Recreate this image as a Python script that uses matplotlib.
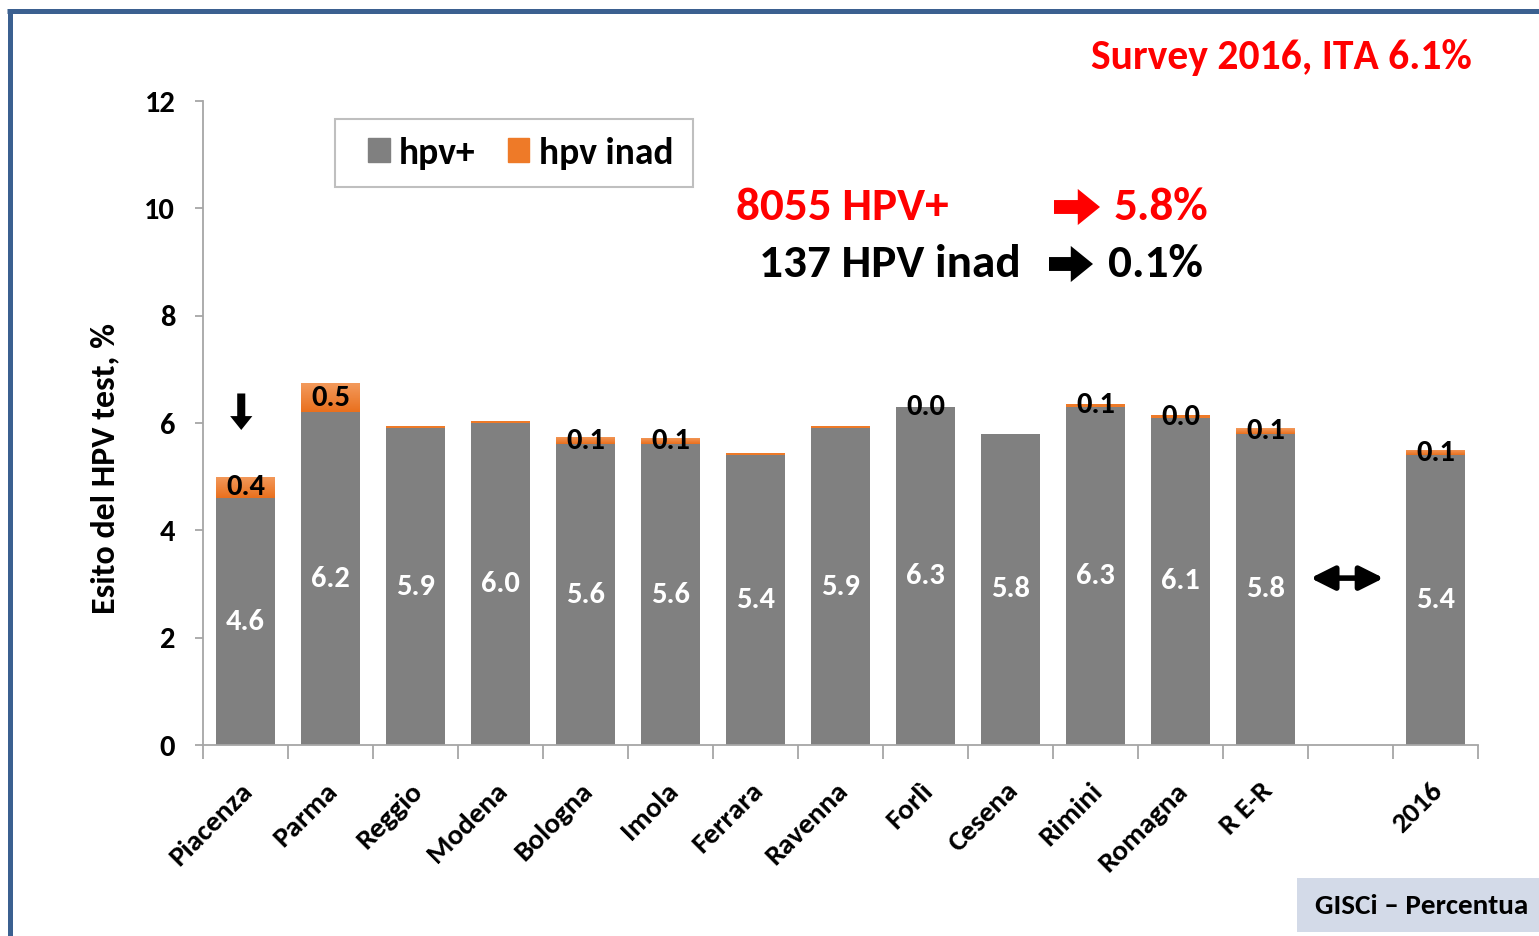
import numpy as np
import matplotlib.pyplot as plt
import matplotlib.transforms as mtransforms
from matplotlib.lines import Line2D
from matplotlib.patches import Rectangle, Patch, FancyArrowPatch
from matplotlib.colors import LinearSegmentedColormap

plt.rcParams['font.family'] = ['Carlito', 'Lato', 'DejaVu Sans']
plt.rcParams['font.weight'] = 'bold'
plt.rcParams['axes.labelweight'] = 'bold'

# esito del test HPV per programma (%)
areas = ["Piacenza", "Parma", "Reggio", "Modena", "Bologna", "Imola", "Ferrara",
         "Ravenna", "Forlì", "Cesena", "Rimini", "Romagna", "R E-R", "", "2016"]
hpv_pos = [4.6, 6.2, 5.9, 6.0, 5.6, 5.6, 5.4, 5.9, 6.3, 5.8, 6.3, 6.1, 5.8, np.nan, 5.4]
hpv_inad = [0.4, 0.54, 0.04, 0.03, 0.14, 0.12, 0.04, 0.04, 0.0, 0.0, 0.06, 0.04, 0.1, np.nan, 0.1]
inad_shown = [True, True, False, False, True, True, False, False, True, False,
              True, True, True, False, True]

GREY = "#808080"
ORANGE = "#EE7A28"
AXC = "#A6A6A6"
W, H = 1539, 936


def fx(px):
    return px / W


def fy(py):
    return 1 - py / H


fig = plt.figure(figsize=(W / 100, H / 100), dpi=100)
ax = fig.add_axes([203 / W, 1 - 745 / H, 1275 / W, 644 / H])

x = np.arange(len(areas))
ax.bar(x, hpv_pos, width=0.69, color=GREY, zorder=2)
top = ax.bar(x, hpv_inad, bottom=hpv_pos, width=0.69, color=ORANGE, zorder=2)

# leggera sfumatura sulle barre arancioni
grad = np.linspace(0, 1, 64).reshape(-1, 1)
ocmap = LinearSegmentedColormap.from_list("o", ["#E9701E", "#F39A5C"])
for r in top:
    if r.get_height() > 0.08:
        bx, by = r.get_x(), r.get_y()
        im = ax.imshow(grad, cmap=ocmap, origin="lower", aspect="auto", zorder=2.5,
                       extent=(bx, bx + r.get_width(), by, by + r.get_height()))
        im.set_clip_path(r)

ax.set_xlim(-0.5, len(areas) - 0.5)
ax.set_ylim(0, 12)
for s in ("top", "right"):
    ax.spines[s].set_visible(False)
for s in ("left", "bottom"):
    ax.spines[s].set_color(AXC)
    ax.spines[s].set_linewidth(1.3)

ax.set_yticks(np.arange(0, 13, 2))
ax.tick_params(axis="y", length=6, width=1.3, color=AXC, labelsize=22, pad=14)
ax.set_xticks(x)
ax.set_xticklabels(areas, rotation=45, ha="right", va="center",
                   rotation_mode="anchor", fontsize=21)
ax.tick_params(axis="x", which="major", length=0, pad=30)
ax.set_xticks(np.arange(-0.5, len(areas)), minor=True)
ax.tick_params(axis="x", which="minor", length=10, width=1.3, color=AXC)
shift = mtransforms.ScaledTranslation(3 / 100, 0, fig.dpi_scale_trans)
for lab in ax.get_xticklabels():
    lab.set_transform(lab.get_transform() + shift)

ax.set_ylabel("Esito del HPV test, %", fontsize=24.5)
ax.yaxis.set_label_coords(-0.066, 0.43)

# etichette dei valori
for i in range(len(areas)):
    p, q = hpv_pos[i], hpv_inad[i]
    if np.isnan(p):
        continue
    ax.text(x[i], p / 2, f"{p:.1f}", ha="center", va="center",
            color="white", fontsize=22, zorder=4)
    if inad_shown[i]:
        ax.text(x[i], p + q / 2, f"{q:.1f}", ha="center", va="center",
                color="black", fontsize=22, zorder=4)

# legenda con cornice separata
fig.add_artist(Rectangle((fx(335), fy(187)), 358 / W, 68 / H, transform=fig.transFigure,
                         facecolor="white", edgecolor="#BFBFBF", lw=1.5, zorder=3))
leg = fig.legend(handles=[Patch(color=GREY), Patch(color=ORANGE)],
                 labels=["hpv+", "hpv inad"], loc="center left",
                 bbox_to_anchor=(fx(368), fy(153)), bbox_transform=fig.transFigure,
                 ncol=2, frameon=False, borderaxespad=0, borderpad=0,
                 handlelength=0.58, handleheight=0.62,
                 handletextpad=0.25, columnspacing=0.85, fontsize=27)
leg.set_zorder(5)

# frecce
ax.annotate("", xy=(-0.05, 5.87), xytext=(-0.05, 6.55),
            arrowprops=dict(arrowstyle="simple,head_length=1.0,head_width=1.6,tail_width=0.58",
                            mutation_scale=10, color="black", lw=0, shrinkA=0, shrinkB=0))
ax.annotate("", xy=(13.39, 3.11), xytext=(12.53, 3.11),
            arrowprops=dict(arrowstyle="<|-|>,head_length=0.8,head_width=0.4",
                            mutation_scale=18, color="black", lw=4, shrinkA=0, shrinkB=0))

fig.text(fx(1472), fy(58), "Survey 2016, ITA 6.1%", color="red", fontsize=30,
         ha="right", va="center")
fig.text(fx(736), fy(207), "8055 HPV+", color="red", fontsize=34, ha="left", va="center")
fig.text(fx(1114), fy(207), "5.8%", color="red", fontsize=34, ha="left", va="center")
fig.text(fx(759), fy(264), "137 HPV inad", color="black", fontsize=34, ha="left", va="center")
fig.text(fx(1108), fy(264), "0.1%", color="black", fontsize=34, ha="left", va="center")
for (x0, x1, yy, c) in [(1054, 1100, 207, "red"), (1049, 1093, 264, "black")]:
    fig.add_artist(FancyArrowPatch(
        (fx(x0), fy(yy)), (fx(x1), fy(yy)), transform=fig.transFigure,
        arrowstyle="simple,head_length=1.6,head_width=2.6,tail_width=1.0",
        mutation_scale=10, color=c, lw=0, shrinkA=0, shrinkB=0))

# cornice e riquadro in basso
fig.add_artist(Line2D([fx(9.5), fx(9.5)], [0, fy(8.5)], transform=fig.transFigure,
                      color="#3B6090", lw=3.6, solid_capstyle="butt"))
fig.add_artist(Line2D([fx(7), 1], [fy(10.5), fy(10.5)], transform=fig.transFigure,
                      color="#3B6090", lw=3.6, solid_capstyle="butt"))
fig.add_artist(Rectangle((fx(1297), fy(932)), (W - 1297) / W, 54 / H,
                         transform=fig.transFigure, color="#D3DAE8", lw=0))
fig.text(fx(1315), fy(906), "GISCi – Percentua", fontsize=21, ha="left", va="center")

fig.savefig("out.png", dpi=100, facecolor="white")
